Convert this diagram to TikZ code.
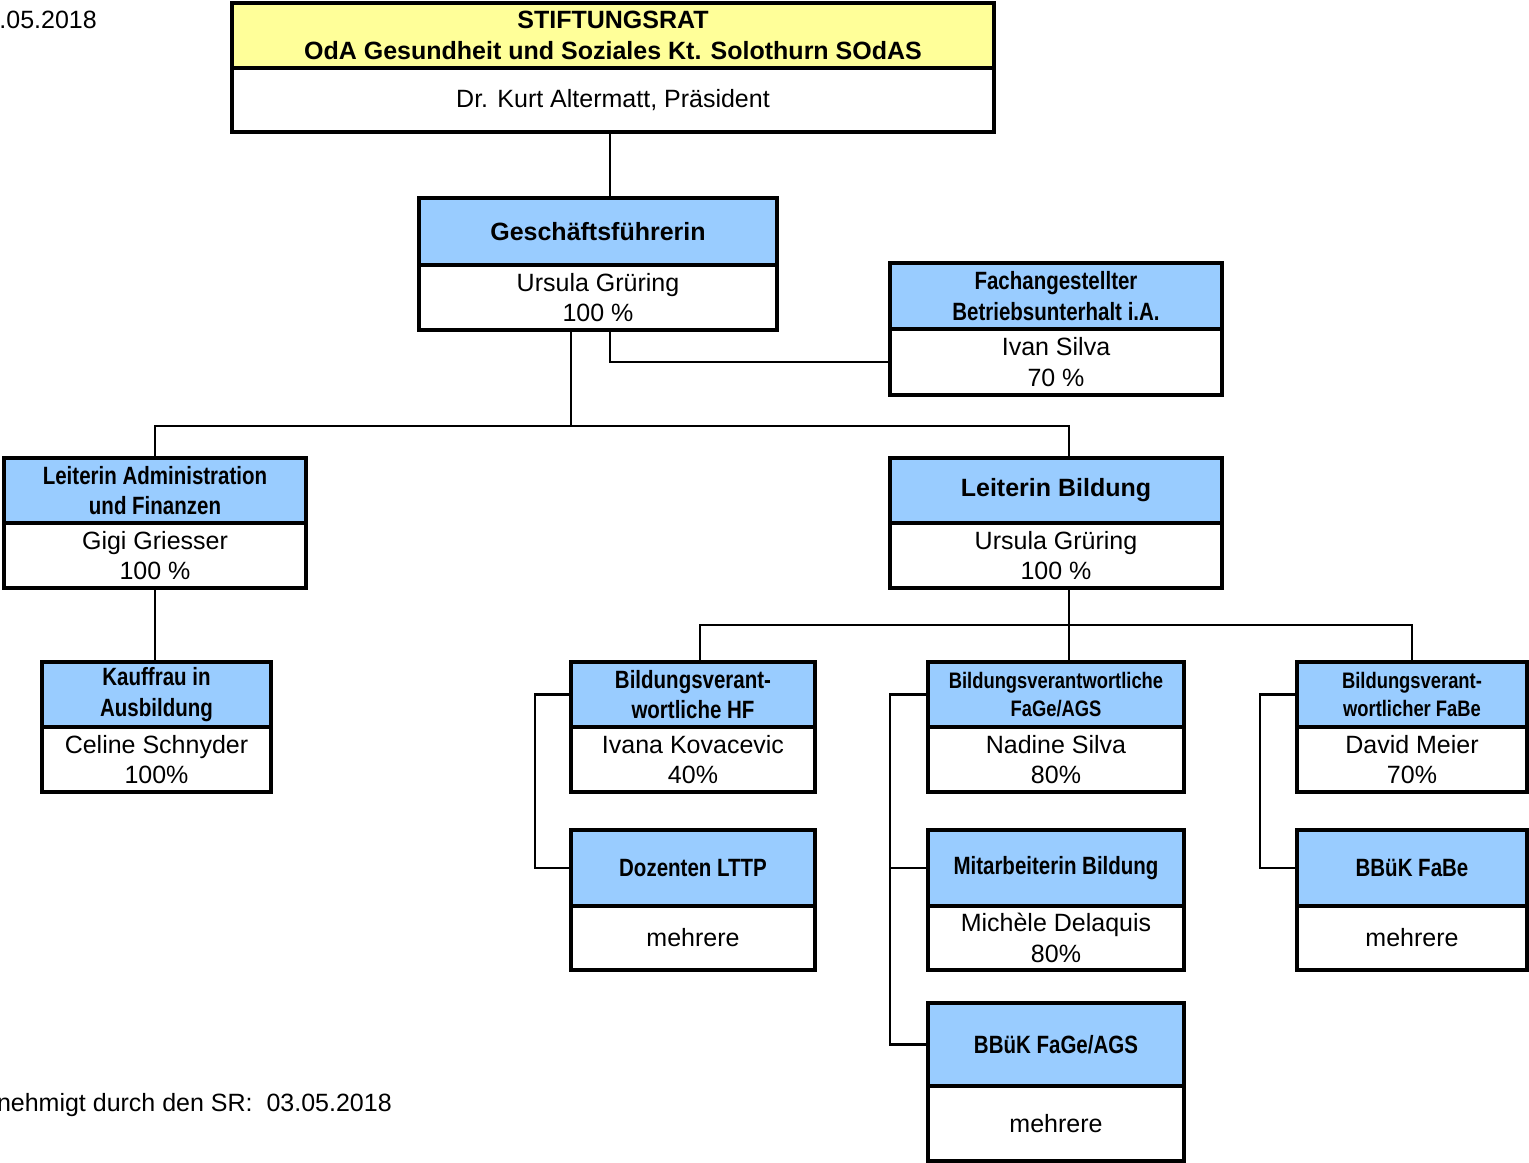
\documentclass[tikz,border=0pt]{standalone}
\usepackage{fontspec}
\setmainfont{Liberation Sans}
\newfontfamily\narrowfont[FakeStretch=0.82]{Liberation Sans}
\usetikzlibrary{positioning,calc}
\definecolor{headblue}{RGB}{153,204,255}
\definecolor{headyellow}{RGB}{255,255,153}
\newcommand{\bodysize}{\fontsize{18.75}{23}\selectfont}

\begin{document}
\begin{tikzpicture}[x=0.75pt,y=-0.75pt,
  box/.style={draw,line width=3pt,inner sep=0pt,outer sep=0pt,align=center},
  size/.style 2 args={minimum width=#1*0.75pt,minimum height=#2*0.75pt},
  head/.style={box,fill=headblue,font=\narrowfont\bfseries\bodysize},
  smallhead/.style={head,font=\narrowfont\bfseries\fontsize{16.8}{21.5}\selectfont},
  widehead/.style={box,fill=headblue,font=\bfseries\bodysize},
  body/.style={box,fill=white,font=\bodysize},
  conn/.style={line width=2.2pt},
  note/.style={anchor=east,inner sep=0pt,font=\bodysize}]

\useasboundingbox(0,0)rectangle(1529,1163);

% Stiftungsrat
\node[box,fill=headyellow,font=\bfseries\fontsize{18.75}{23.5}\selectfont,size={762}{65},anchor=north west](stift)at(232,3){STIFTUNGSRAT\\OdA Gesundheit und Soziales Kt. Solothurn SOdAS};
\node[body,size={762}{64},below=0pt of stift](stiftb){Dr. Kurt Altermatt, Präsident};

% Geschaeftsfuehrung
\node[widehead,size={358}{67},anchor=north west](gf)at(419,198){Geschäftsführerin};
\node[body,size={358}{65},below=0pt of gf](gfb){Ursula Grüring\\100 \%};
\node[head,size={332}{66},anchor=north west](fach)at(890,263){Fachangestellter\\Betriebsunterhalt i.A.};
\node[body,size={332}{66},below=0pt of fach](fachb){Ivan Silva\\70 \%};

% Leitungen
\node[head,size={302}{65},anchor=north west](adm)at(4,458){Leiterin Administration\\und Finanzen};
\node[body,size={302}{65},below=0pt of adm](admb){Gigi Griesser\\100 \%};
\node[widehead,size={332}{65},anchor=north west](bild)at(890,458){Leiterin Bildung};
\node[body,size={332}{65},below=0pt of bild](bildb){Ursula Grüring\\100 \%};

\node[head,size={229}{65},anchor=north west](kauf)at(42,662){Kauffrau in\\Ausbildung};
\node[body,size={229}{65},below=0pt of kauf](kaufb){Celine Schnyder\\100\%};

% Bildung
\node[head,size={244}{65},anchor=north west](hf)at(571,662){Bildungsverant-\\wortliche HF};
\node[body,size={244}{65},below=0pt of hf](hfb){Ivana Kovacevic\\40\%};
\node[smallhead,size={256}{65},anchor=north west](fage)at(928,662){Bildungsverantwortliche\\FaGe/AGS};
\node[body,size={256}{65},below=0pt of fage](fageb){Nadine Silva\\80\%};
\node[smallhead,size={230}{65},anchor=north west](fabe)at(1297,662){Bildungsverant-\\wortlicher FaBe};
\node[body,size={230}{65},below=0pt of fabe](fabeb){David Meier\\70\%};

\node[head,size={244}{76},anchor=north west](doz)at(571,830){Dozenten LTTP};
\node[body,size={244}{64},below=0pt of doz](dozb){mehrere};
\node[head,size={256}{76},anchor=north west](mit)at(928,830){Mitarbeiterin Bildung};
\node[body,size={256}{64},below=0pt of mit](mitb){Michèle Delaquis\\80\%};
\node[head,size={230}{76},anchor=north west](bbfabe)at(1297,830){BBüK FaBe};
\node[body,size={230}{64},below=0pt of bbfabe](bbfabeb){mehrere};
\node[head,size={256}{83},anchor=north west](bbfage)at(928,1003){BBüK FaGe/AGS};
\node[body,size={256}{75},below=0pt of bbfage](bbfageb){mehrere};

% Texte
\node[note](stand)at(97,20){.05.2018};
\node[note](genehm)at(392,1105){nehmigt durch den SR:\ \ 03.05.2018};

% Verbindungen
\coordinate(top)at($(stiftb.south)+(-3,0)$);
\draw[conn](top)--(top|-gf.north);
\draw[conn](gfb.south-|top)|-(fachb.west);
\coordinate(bus1)at($(gfb.south)+(-27,96)$);
\draw[conn]($(gfb.south)+(-27,0)$)--(bus1);
\draw[conn](adm.north)|-(bus1)-|($(bild.north)+(13,0)$);
\draw[conn](admb.south)--(admb.south|-kauf.north);
\coordinate(bus2)at($(bildb.south)+(13,37)$);
\draw[conn]($(bildb.south)+(13,0)$)--($(fage.north)+(13,0)$);
\draw[conn]($(hf.north)+(7,0)$)|-(bus2)-|(fabe.north);
\draw[conn](hf.west)--++(-36,0)|-(doz.west);
\draw[conn](fage.west)--++(-38,0)|-(bbfage.west);
\draw[conn](mit.west)--++(-38,0);
\draw[conn](fabe.west)--++(-37,0)|-(bbfabe.west);

\end{tikzpicture}
\end{document}
